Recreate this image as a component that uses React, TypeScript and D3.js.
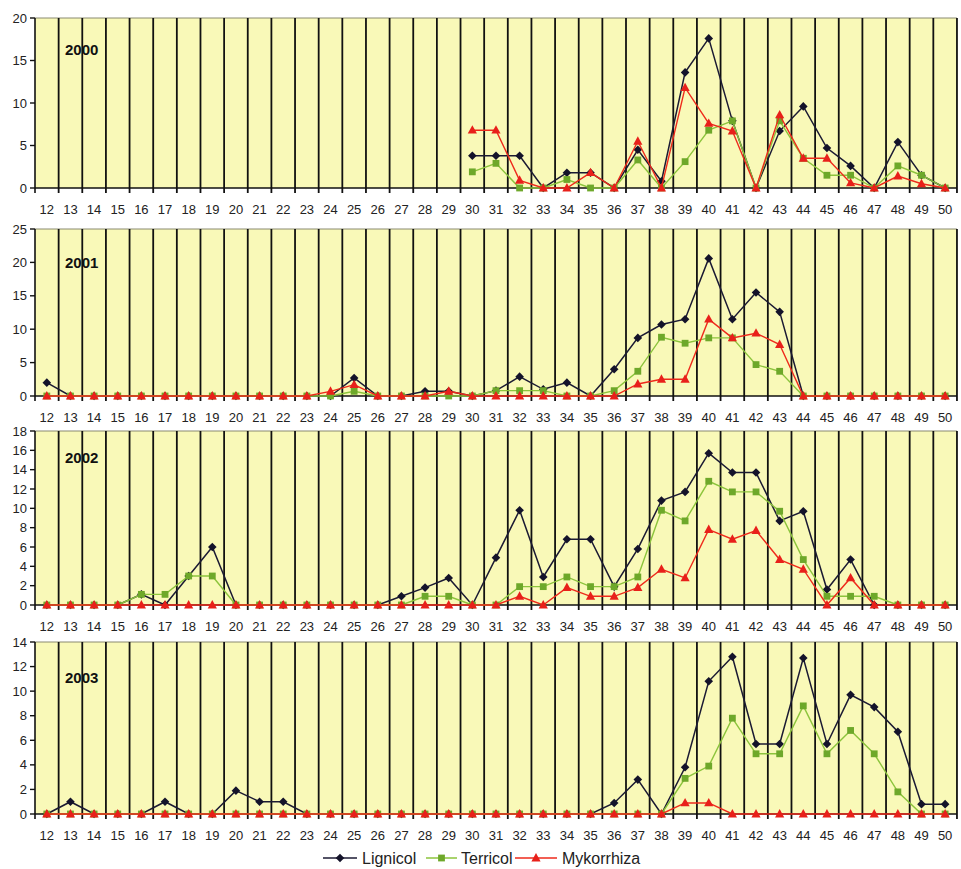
import React from "react";
import * as d3 from "d3";

const weeks = [12,13,14,15,16,17,18,19,20,21,22,23,24,25,26,27,28,29,30,31,32,33,34,35,36,37,38,39,40,41,42,43,44,45,46,47,48,49,50];
const years = ["2000", "2001", "2002", "2003"];
const yMaxes = [20, 25, 18, 14];
const yTickSteps = [5, 5, 2, 2];
const seriesNames = ["Lignicol", "Terricol", "Mykorrhiza"];

const N = null;
// 2000 (no records before week 30)
const lig2000 = [N,N,N,N,N,N,N,N,N,N,N,N,N,N,N,N,N,N, 3.8,3.8,3.8,0,1.8,1.8,0,4.5,0.8,13.6,17.6,7.9,0,6.7,9.6,4.7,2.6,0,5.4,1.5,0];
const ter2000 = [N,N,N,N,N,N,N,N,N,N,N,N,N,N,N,N,N,N, 1.9,2.9,0,0,1,0,0,3.3,0,3.1,6.8,7.9,0,7.9,3.5,1.5,1.5,0,2.6,1.5,0];
const myk2000 = [N,N,N,N,N,N,N,N,N,N,N,N,N,N,N,N,N,N, 6.8,6.8,0.9,0,0,1.8,0,5.5,0,11.8,7.6,6.7,0,8.6,3.5,3.5,0.6,0,1.4,0.5,0];
// 2001
const lig2001 = [2,0,0,0,0,0,0,0,0,0,0,0,0,2.7,0,0,0.7,0.7,0,0.8,2.9,1,2,0,4,8.7,10.7,11.5,20.6,11.5,15.5,12.6,0,0,0,0,0,0,0];
const ter2001 = [0,0,0,0,0,0,0,0,0,0,0,0,0,0.7,0,0,0,0,0,0.8,0.8,0.8,0,0,0.8,3.7,8.8,7.9,8.7,8.7,4.7,3.7,0,0,0,0,0,0,0];
const myk2001 = [0,0,0,0,0,0,0,0,0,0,0,0,0.7,1.7,0,0,0,0.7,0,0,0,0,0,0,0,1.8,2.5,2.5,11.5,8.7,9.4,7.7,0,0,0,0,0,0,0];
// 2002
const lig2002 = [0,0,0,0,1.1,0,3,6,0,0,0,0,0,0,0,0.9,1.8,2.8,0,4.9,9.8,2.9,6.8,6.8,1.9,5.8,10.8,11.7,15.7,13.7,13.7,8.7,9.7,1.6,4.7,0,0,0,0];
const ter2002 = [0,0,0,0,1.1,1.1,3,3,0,0,0,0,0,0,0,0,0.9,0.9,0,0,1.9,1.9,2.9,1.9,1.9,2.9,9.8,8.7,12.8,11.7,11.7,9.7,4.7,0.9,0.9,0.9,0,0,0];
const myk2002 = [0,0,0,0,0,0,0,0,0,0,0,0,0,0,0,0,0,0,0,0,0.9,0,1.8,0.9,0.9,1.8,3.7,2.8,7.8,6.8,7.7,4.7,3.7,0,2.8,0,0,0,0];
// 2003
const lig2003 = [0,1,0,0,0,1,0,0,1.9,1,1,0,0,0,0,0,0,0,0,0,0,0,0,0,0.9,2.8,0,3.8,10.8,12.8,5.7,5.7,12.7,5.7,9.7,8.7,6.7,0.8,0.8];
const ter2003 = [0,0,0,0,0,0,0,0,0,0,0,0,0,0,0,0,0,0,0,0,0,0,0,0,0,0,0,2.9,3.9,7.8,4.9,4.9,8.8,4.9,6.8,4.9,1.8,0,0];
const myk2003 = [0,0,0,0,0,0,0,0,0,0,0,0,0,0,0,0,0,0,0,0,0,0,0,0,0,0,0,0.9,0.9,0,0,0,0,0,0,0,0,0,0];

const panelSeries = [
  [lig2000, ter2000, myk2000],
  [lig2001, ter2001, myk2001],
  [lig2002, ter2002, myk2002],
  [lig2003, ter2003, myk2003],
];

// layout
const W = 961, H = 869;
const plotLeft = 35;
const band = 23.64;
const panelTops = [18, 229, 431, 642];
const panelBottoms = [188, 396, 605, 814];
const yearOffsets = [32, 34, 27, 36];
const lineColors = ["#1b1a33", "#8cc43c", "#ee2a1b"];
const markerColors = ["#14132a", "#6ea82a", "#e8201a"];
const font = "'Liberation Sans', Arial, sans-serif";

function Marker({ kind, x, y }: { kind: number; x: number; y: number }) {
  if (kind === 0) {
    const s = 4.3;
    return <path d={`M${x},${y - s}L${x + s},${y}L${x},${y + s}L${x - s},${y}Z`} fill={markerColors[0]} />;
  }
  if (kind === 1) {
    const s = 3.4;
    return <rect x={x - s} y={y - s} width={2 * s} height={2 * s} fill={markerColors[1]} />;
  }
  const s = 4.2;
  return <path d={`M${x},${y - s - 0.8}L${x + s + 0.4},${y + s - 0.8}L${x - s - 0.4},${y + s - 0.8}Z`} fill={markerColors[2]} />;
}

function Panel({ idx }: { idx: number }) {
  const top = panelTops[idx];
  const bottom = panelBottoms[idx];
  const x = d3.scaleBand<number>().domain(weeks).range([plotLeft, plotLeft + band * weeks.length]).padding(0);
  const cx = (w: number) => (x(w) as number) + x.bandwidth() / 2;
  const y = d3.scaleLinear().domain([0, yMaxes[idx]]).range([bottom, top]);
  const ticks = d3.range(0, yMaxes[idx] + 0.001, yTickSteps[idx]);
  const right = plotLeft + band * weeks.length;
  const line = d3
    .line<number | null>()
    .defined((d) => d !== null)
    .x((_, i) => cx(weeks[i]))
    .y((d) => y(d as number));
  return (
    <g>
      <rect x={plotLeft} y={top} width={right - plotLeft} height={bottom - top} fill="#f9f9b8" />
      <line x1={plotLeft} x2={right} y1={top} y2={top} stroke="#8a8a70" strokeWidth={1} />
      {weeks.slice(1).map((w) => (
        <line key={w} x1={x(w)} x2={x(w)} y1={top} y2={bottom + 5} stroke="#111" strokeWidth={1.8} />
      ))}
      <line x1={right} x2={right} y1={top} y2={bottom + 5} stroke="#111" strokeWidth={1.8} />
      <line x1={plotLeft} x2={plotLeft} y1={top} y2={bottom + 5} stroke="#111" strokeWidth={1.6} />
      <line x1={plotLeft} x2={right} y1={bottom} y2={bottom} stroke="#111" strokeWidth={1.6} />
      {ticks.map((t) => (
        <g key={t}>
          <line x1={plotLeft - 5} x2={plotLeft} y1={y(t)} y2={y(t)} stroke="#111" strokeWidth={1.4} />
          <text x={27} y={y(t)} dy="0.35em" textAnchor="end" fontSize={13} fontFamily={font} fill="#222">
            {t}
          </text>
        </g>
      ))}
      {weeks.map((w) => (
        <text key={w} x={cx(w)} y={bottom + 21} dy="0.35em" textAnchor="middle" fontSize={13} fontFamily={font} fill="#222">
          {w}
        </text>
      ))}
      <text x={65} y={top + yearOffsets[idx]} dy="0.35em" fontSize={15} fontWeight="bold" fontFamily={font} fill="#111">
        {years[idx]}
      </text>
      {panelSeries[idx].map((s, k) => (
        <g key={k}>
          <path d={line(s) || ""} fill="none" stroke={lineColors[k]} strokeWidth={k === 0 ? 1.5 : 1.4} />
          {s.map((v, i) => (v === null ? null : <Marker key={i} kind={k} x={cx(weeks[i])} y={y(v)} />))}
        </g>
      ))}
    </g>
  );
}

function Legend() {
  const ly = 858;
  const items = [
    { x1: 323, x2: 357, tx: 362 },
    { x1: 426, x2: 457, tx: 461 },
    { x1: 515, x2: 557, tx: 562 },
  ];
  return (
    <g>
      {items.map((it, k) => (
        <g key={k}>
          <line x1={it.x1} x2={it.x2} y1={ly} y2={ly} stroke={lineColors[k]} strokeWidth={1.5} />
          <Marker kind={k} x={(it.x1 + it.x2) / 2} y={ly} />
          <text x={it.tx} y={ly} dy="0.35em" fontSize={16} fontFamily={font} fill="#222">
            {seriesNames[k]}
          </text>
        </g>
      ))}
    </g>
  );
}

export default function App() {
  return (
    <svg width={W} height={H} style={{ position: "absolute", left: 0, top: 0, background: "#fff" }}>
      {years.map((_, i) => (
        <Panel key={i} idx={i} />
      ))}
      <Legend />
    </svg>
  );
}
